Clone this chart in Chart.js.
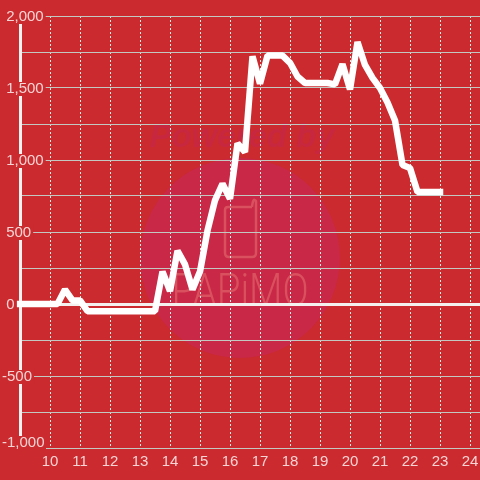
<!DOCTYPE html>
<html>
<head>
<meta charset="utf-8">
<style>
  html, body { margin: 0; padding: 0; background: #cb2a2e; }
  #wrap { width: 480px; height: 480px; }
</style>
<script src="https://cdn.jsdelivr.net/npm/chart.js@4"></script>
</head>
<body>
<div id="wrap"><canvas id="chart" width="480" height="480"></canvas></div>
<script>
// hour of day, one reading every 15 minutes from 10:00 on (plus the start at 9)
const hours = [9, 10, 10.25, 10.5, 10.75, 11, 11.25, 11.5, 12, 12.5, 13, 13.5, 13.75, 14, 14.25, 14.5, 14.75,
  15, 15.25, 15.5, 15.75, 16, 16.25, 16.5, 16.75, 17, 17.25, 17.5, 17.75, 18, 18.25, 18.5, 18.75, 19, 19.25,
  19.5, 19.75, 20, 20.25, 20.5, 20.75, 21, 21.25, 21.5, 21.75, 22, 22.25, 22.5, 22.75, 23];
const profit = [0, 0, 0, 100, 25, 25, -50, -50, -50, -50, -50, -50, 225, 90, 370, 275, 100,
  225, 510, 720, 835, 730, 1115, 1055, 1720, 1530, 1725, 1725, 1725, 1675, 1580, 1535, 1535, 1535, 1535,
  1525, 1665, 1490, 1820, 1660, 1570, 1500, 1400, 1275, 965, 945, 778, 778, 778, 778];
const yLabelled = [2000, 1500, 1000, 500, 0, -500, -1000];

const labelFont = 'Liberation Sans';
const background = '#cb2a2e';

// faint logo behind the grid
const watermark = {
  id: 'watermark',
  beforeDraw(chart) {
    const c = chart.ctx;
    c.save();
    c.fillStyle = '#c92846';
    c.beginPath();
    c.arc(240, 258, 100, 0, Math.PI * 2);
    c.fill();

    c.fillStyle = '#c8283f';
    c.font = 'italic bold 33px "Liberation Sans"';
    c.textAlign = 'center';
    c.fillText('Powered by', 242, 147);

    c.strokeStyle = '#d9505f';
    c.lineWidth = 2.5;
    c.lineJoin = 'round';
    c.beginPath();
    c.moveTo(252, 207);
    c.lineTo(228, 207);
    c.quadraticCurveTo(225, 207, 225, 210);
    c.lineTo(225, 253);
    c.quadraticCurveTo(225, 257, 229, 257);
    c.lineTo(252, 257);
    c.quadraticCurveTo(256, 257, 256, 253);
    c.lineTo(256, 201);
    c.quadraticCurveTo(253, 197, 252, 207);
    c.stroke();

    c.fillStyle = '#d9505f';
    c.font = '300 47px Roboto';
    c.translate(240, 306);
    c.scale(0.82, 1);
    c.fillText('PAPiMO', 0, 0);
    c.restore();
  },
  // the -1,000 label sits above its tick, so its mask is not the tick's own backdrop
  beforeDatasetsDraw(chart) {
    const c = chart.ctx;
    const bottom = chart.scales.y.getPixelForValue(-1000);
    c.save();
    c.fillStyle = background;
    c.fillRect(0, bottom - 12, 46, 14);
    c.restore();
  }
};

new Chart(document.getElementById('chart').getContext('2d'), {
  type: 'line',
  data: {
    datasets: [{
      data: hours.map((h, i) => ({ x: h, y: profit[i] })),
      borderColor: '#ffffff',
      borderWidth: 6.5,
      borderCapStyle: 'square',
      borderJoinStyle: 'bevel',
      pointRadius: 0,
      tension: 0,
      clip: false
    }]
  },
  plugins: [watermark],
  options: {
    responsive: false,
    animation: false,
    layout: { padding: { top: 16 } },
    plugins: { legend: { display: false }, tooltip: { enabled: false } },
    scales: {
      x: {
        type: 'linear',
        min: 9,
        max: 24.3333,
        afterFit: s => {
          s.height = 32;
          s.paddingLeft = 0;
          s.paddingRight = 0;
        },
        border: { display: false, dash: [2, 2] },
        grid: {
          drawTicks: false,
          color: c => c.tick && c.tick.value === 9 ? 'transparent' : '#e6ebe4'
        },
        ticks: {
          stepSize: 1,
          includeBounds: false,
          autoSkip: false,
          maxRotation: 0,
          padding: 5,
          color: 'rgba(255,255,255,0.8)',
          font: { family: labelFont, size: 15 },
          callback: v => v === 9 ? '' : String(v)
        }
      },
      y: {
        min: -1000,
        max: 2000,
        afterFit: s => {
          s.width = 20;
          s.paddingTop = 0;
          s.paddingBottom = 0;
        },
        border: { color: '#f2f2f2', width: 3 },
        grid: {
          drawTicks: false,
          color: c => c.tick && c.tick.value === 0 ? '#f5f0f0' : '#c3c8c3',
          lineWidth: c => c.tick && c.tick.value === 0 ? 3 : 1
        },
        ticks: {
          stepSize: 250,
          autoSkip: false,
          mirror: true,
          padding: -18,
          labelOffset: 1,
          z: 1,
          color: 'rgba(255,255,255,0.8)',
          font: c => ({
            family: labelFont,
            size: 15,
            lineHeight: c.tick && c.tick.value === -1000 ? '12px' : '14px'
          }),
          showLabelBackdrop: true,
          backdropColor: c => c.tick && yLabelled.includes(c.tick.value) && c.tick.value !== -1000 ? background : 'transparent',
          backdropPadding: { top: 0, bottom: 0, left: 0, right: 2 },
          callback: v => {
            if (!yLabelled.includes(v)) return '';
            const text = v.toLocaleString('en-US');
            if (v === -1000) return [text, ''];
            return v < 0 ? text : ' ' + text;
          }
        }
      }
    }
  }
});
</script>
</body>
</html>
